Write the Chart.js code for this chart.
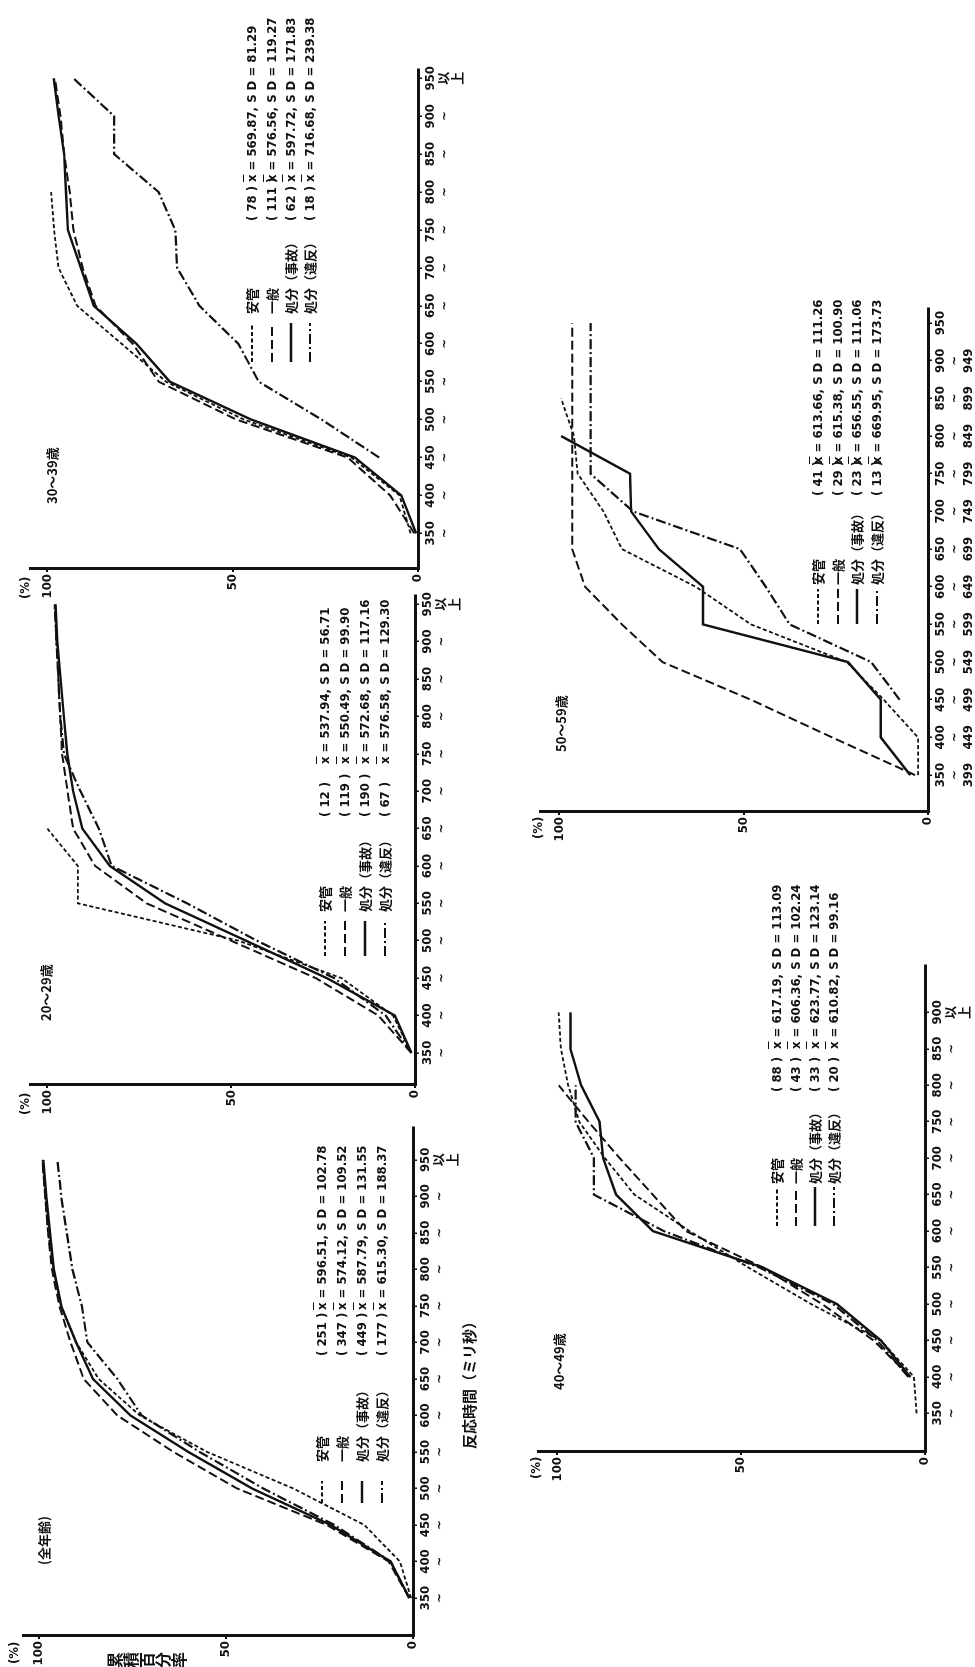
<!DOCTYPE html>
<html lang="ja">
<head>
<meta charset="utf-8">
<title>反応時間の累積百分率</title>
<script src="https://cdn.jsdelivr.net/npm/chart.js@4.4.1/dist/chart.umd.min.js"></script>
<style>
  html, body { margin: 0; padding: 0; background: #fff; }
  body { width: 975px; height: 1667px; overflow: hidden; position: relative; }
  /* the page is laid out landscape and turned a quarter to the left */
  #page {
    position: absolute; left: 0; top: 0; width: 1667px; height: 975px;
    transform-origin: 0 0; transform: translate(0, 1667px) rotate(-90deg);
  }
  #page canvas { position: absolute; }
  .t {
    position: absolute; color: #111; white-space: nowrap; line-height: 1;
    font-family: "Noto Sans CJK JP", sans-serif; font-weight: bold; font-size: 13px;
    transform: translateY(-50%);
  }
  .num { font-family: "Liberation Sans Narrow", "DejaVu Sans Condensed", "Noto Sans CJK JP", sans-serif; }
  .vert { writing-mode: vertical-rl; transform: none; font-size: 16px; }
  .row { position: absolute; height: 16px; }
  .row > * { position: absolute; top: 0; }
  .row svg { top: 6px; }
  .row .lab, .row .n, .row .st { line-height: 16px; }
  .xb { text-decoration: overline; }
</style>
</head>
<body>
<div id="page"></div>
<script>
(function () {
  'use strict';

  // ── Data ──────────────────────────────────────────────────────────────────
  var TIMES    = [350, 400, 450, 500, 550, 600, 650, 700, 750, 800, 850, 900, 950];
  var TIMES_40 = [350, 400, 450, 500, 550, 600, 650, 700, 750, 800, 850, 900];

  var LABELS_STD = [['350', '~'], ['400', '~'], ['450', '~'], ['500', '~'], ['550', '~'],
    ['600', '~'], ['650', '~'], ['700', '~'], ['750', '~'], ['800', '~'], ['850', '~'],
    ['900', '~'], ['950', '以', '上']];
  var LABELS_40 = [['350', '~'], ['400', '~'], ['450', '~'], ['500', '~'], ['550', '~'],
    ['600', '~'], ['650', '~'], ['700', '~'], ['750', '~'], ['800', '~'], ['850', '~'],
    ['900', '以', '上']];
  var LABELS_50 = [['350', '~', '399'], ['400', '~', '449'], ['450', '~', '499'],
    ['500', '~', '549'], ['550', '~', '599'], ['600', '~', '649'], ['650', '~', '699'],
    ['700', '~', '749'], ['750', '~', '799'], ['800', '~', '849'], ['850', '~', '899'],
    ['900', '~', '949'], ['950']];

  var PCT_TICKS  = [0, 50, 100];
  var PCT_LABELS = ['0', '50', '100'];

  var GROUPS = ['安管', '一般', '処分（事故）', '処分（違反）'];

  // 全年齢
  var ALL_ANKAN = [0.5, 3.5, 13, 32, 55, 73, 84, 90, 94, 96, 97.5, 98.3, 99];
  var ALL_IPPAN = [1, 6.5, 23, 47, 64, 79, 88, 91.5, 94.5, 96.5, 97.5, 98.3, 99];
  var ALL_JIKO  = [1, 6, 22, 43, 60, 75.5, 85.5, 90, 94, 96, 97, 98, 98.8];
  var ALL_IHAN  = [1, 6, 21, 40, 57, 72.5, 79, 87, 88.5, 91, 92.5, 94, 95];
  var ALL_N    = ['251', '347', '449', '177'];
  var ALL_MEAN = ['596.51', '574.12', '587.79', '615.30'];
  var ALL_SD   = ['102.78', '109.52', '131.55', '188.37'];

  // 20〜29歳
  var A20_ANKAN = [1, 6, 20, 48, 91.7, 91.7, 100, null, null, null, null, null, null];
  var A20_IPPAN = [1, 10, 27, 50, 73, 87, 93, 94.5, 96, 96.5, 97, 97.5, 98];
  var A20_JIKO  = [1, 5.5, 24, 46, 68, 83, 90.5, 93, 94.6, 95.5, 96.4, 97.3, 97.8];
  var A20_IHAN  = [1, 8, 22, 43, 62, 82.5, 86, 91, 95.5, 96.5, 97, 97.5, 98];
  var A20_N    = ['12', '119', '190', '67'];
  var A20_MEAN = ['537.94', '550.49', '572.68', '576.58'];
  var A20_SD   = ['56.71', '99.90', '117.16', '129.30'];

  // 30〜39歳
  var A30_ANKAN = [2, 5, 18, 47, 68, 80, 92, 97, 98.2, 99, null, null, null];
  var A30_IPPAN = [1, 7.5, 19, 49, 70, 77, 87, 90.5, 93, 94, 95.5, 96.5, 98];
  var A30_JIKO  = [0.5, 4.5, 17, 45, 67, 76, 87.5, 91, 94.5, 95, 95.5, 97, 98.3];
  var A30_IHAN  = [null, null, 10.5, 26, 43, 48.5, 59, 65, 65.5, 70, 82, 82, 93];
  var A30_N    = ['78', '111', '62', '18'];
  var A30_MEAN = ['569.87', '576.56', '597.72', '716.68'];
  var A30_SD   = ['81.29', '119.27', '171.83', '239.38'];

  // 40〜49歳
  var A40_ANKAN = [2.3, 3, 12, 31, 48, 64, 79, 87, 94, 97, 99, 99.6];
  var A40_IPPAN = [null, 4, 14, 28, 44, 65, 74, 83, 91.5, 99.6, null, null];
  var A40_JIKO  = [null, 4, 12, 24, 44, 74, 84, 87.5, 88.5, 93.5, 96.4, 96.4];
  var A40_IHAN  = [null, 4.5, 13, 25, 45, 71, 90, 90, 95, 95, null, null];
  var A40_N    = ['88', '43', '33', '20'];
  var A40_MEAN = ['617.19', '606.36', '623.77', '610.82'];
  var A40_SD   = ['113.09', '102.24', '123.14', '99.16'];

  // 50〜59歳
  var A50_ANKAN = [2.7, 2.7, 12, 22, 48, 63, 83, 88, 95, 96, 99.5, null, null];
  var A50_IPPAN = [3.5, 26, 48, 72, 83, 93, 96.5, 96.5, 96.5, 96.5, 96.5, 96.5, 96.5];
  var A50_JIKO  = [4.8, 12.8, 12.8, 21.7, 61, 61, 73, 80.5, 80.8, 99.5, null, null, null];
  var A50_IHAN  = [null, null, 7.7, 15.4, 37.5, 44, 51, 80, 91.5, 91.5, 91.5, 91.5, 91.5];
  var A50_N    = ['41', '29', '23', '13'];
  var A50_MEAN = ['613.66', '615.38', '656.55', '669.95'];
  var A50_SD   = ['111.26', '100.90', '111.06', '173.73'];

  // ── Line styles (安管 / 一般 / 処分(事故) / 処分(違反)) ─────────────────────
  var STYLES = [
    { dash: [4, 2.5],       width: 1.8 },
    { dash: [9, 4],         width: 2.0 },
    { dash: [],             width: 2.4 },
    { dash: [10, 3, 2, 3],  width: 2.2 }
  ];
  var INK = '#111';
  var NUM_FONT = '"Liberation Sans Narrow", "DejaVu Sans Condensed", "Noto Sans CJK JP", sans-serif';

  Chart.defaults.font.family = NUM_FONT;
  Chart.defaults.color = INK;

  var page = document.getElementById('page');

  // ── Helpers ───────────────────────────────────────────────────────────────
  function addText(html, u, v, cls) {
    var el = document.createElement('div');
    el.className = 't' + (cls ? ' ' + cls : '');
    el.innerHTML = html;
    el.style.left = u + 'px';
    el.style.top = v + 'px';
    page.appendChild(el);
    return el;
  }

  function sampleSvg(style, len) {
    var ns = 'http://www.w3.org/2000/svg';
    var svg = document.createElementNS(ns, 'svg');
    svg.setAttribute('width', len);
    svg.setAttribute('height', 4);
    var ln = document.createElementNS(ns, 'line');
    ln.setAttribute('x1', 0); ln.setAttribute('y1', 2);
    ln.setAttribute('x2', len); ln.setAttribute('y2', 2);
    ln.setAttribute('stroke', INK);
    ln.setAttribute('stroke-width', style.width);
    if (style.dash.length) { ln.setAttribute('stroke-dasharray', style.dash.join(' ')); }
    svg.appendChild(ln);
    return svg;
  }

  function addLegend(lg, n, mean, sd) {
    GROUPS.forEach(function (g, i) {
      var row = document.createElement('div');
      row.className = 'row';
      row.style.left = lg.u + 'px';
      row.style.top = (lg.rows[i] - 8) + 'px';
      var svg = sampleSvg(STYLES[i], lg.len);
      svg.style.left = '0px';
      row.appendChild(svg);

      var lab = document.createElement('span');
      lab.className = 'lab';
      lab.style.left = lg.offL + 'px';
      lab.textContent = g;
      row.appendChild(lab);

      var cnt = document.createElement('span');
      cnt.className = 'n num';
      cnt.style.left = lg.offN + 'px';
      cnt.textContent = '( ' + n[i] + ' )';
      row.appendChild(cnt);

      var st = document.createElement('span');
      st.className = 'st num';
      st.style.left = lg.offS + 'px';
      st.innerHTML = '<span class="xb">x</span> = ' + mean[i] + ', S D = ' + sd[i];
      row.appendChild(st);

      row.style.fontFamily = '"Noto Sans CJK JP", sans-serif';
      row.style.fontWeight = 'bold';
      row.style.fontSize = '13px';
      row.style.color = INK;
      row.style.whiteSpace = 'nowrap';
      page.appendChild(row);
    });
  }

  // one panel: geometry in page pixels (u to the right, v downwards)
  function panel(p) {
    var W = 30, H = 62, PT = 4, PR = 4;
    var cw = W + (p.uEnd - p.u0) + PR;
    var ch = PT + (p.v0 - p.vTop) + H;
    var canvas = document.createElement('canvas');
    canvas.width = cw; canvas.height = ch;
    canvas.style.width = cw + 'px'; canvas.style.height = ch + 'px';
    canvas.style.left = (p.u0 - W) + 'px';
    canvas.style.top = (p.vTop - PT) + 'px';
    page.appendChild(canvas);

    new Chart(canvas, {
      type: 'line',
      data: {
        datasets: p.series.map(function (s, i) {
          return {
            label: GROUPS[i],
            data: p.times.map(function (t, j) { return { x: t, y: s[j] }; }),
            borderColor: INK,
            borderWidth: STYLES[i].width,
            borderDash: STYLES[i].dash,
            borderCapStyle: 'butt',
            pointRadius: 0,
            fill: false,
            tension: 0,
            spanGaps: false
          };
        })
      },
      options: {
        responsive: false,
        animation: false,
        devicePixelRatio: 1,
        layout: { autoPadding: false, padding: { left: 0, top: PT, right: PR, bottom: 0 } },
        plugins: { legend: { display: false }, tooltip: { enabled: false } },
        scales: {
          x: {
            type: 'linear', min: p.xMin, max: p.xMax,
            afterFit: function (sc) { sc.height = H; },
            afterBuildTicks: function (sc) {
              sc.ticks = p.times.map(function (t) { return { value: t }; });
            },
            ticks: {
              autoSkip: false, maxRotation: 0, minRotation: 0, padding: 2, color: INK,
              font: { size: 13, weight: 'bold', lineHeight: 1.05 },
              callback: function (v, i) { return p.tickLabels[i]; }
            },
            grid: { drawOnChartArea: false, drawTicks: true, tickLength: 4, color: INK, lineWidth: 1.5 },
            border: { display: true, color: INK, width: 3 }
          },
          y: {
            type: 'linear', min: 0, max: p.yMax,
            afterFit: function (sc) { sc.width = W; },
            afterBuildTicks: function (sc) {
              sc.ticks = PCT_TICKS.map(function (t) { return { value: t }; });
            },
            ticks: {
              padding: 2, color: INK,
              font: { size: 13, weight: 'bold' },
              callback: function (v, i) { return PCT_LABELS[i]; }
            },
            grid: { drawOnChartArea: false, drawTicks: true, tickLength: 3, color: INK, lineWidth: 2 },
            border: { display: true, color: INK, width: 3 }
          }
        }
      }
    });
  }

  // ── Panels ────────────────────────────────────────────────────────────────
  panel({ u0: 31, uEnd: 540, v0: 413, vTop: 18, xMin: 298, xMax: 995, yMax: 104,
          times: TIMES, tickLabels: LABELS_STD,
          series: [ALL_ANKAN, ALL_IPPAN, ALL_JIKO, ALL_IHAN] });
  panel({ u0: 582, uEnd: 1073, v0: 415, vTop: 25, xMin: 307, xMax: 962, yMax: 104.5,
          times: TIMES, tickLabels: LABELS_STD,
          series: [A20_ANKAN, A20_IPPAN, A20_JIKO, A20_IHAN] });
  panel({ u0: 1098, uEnd: 1599, v0: 418, vTop: 25, xMin: 303, xMax: 962, yMax: 104.5,
          times: TIMES, tickLabels: LABELS_STD,
          series: [A30_ANKAN, A30_IPPAN, A30_JIKO, A30_IHAN] });
  panel({ u0: 215, uEnd: 702, v0: 925, vTop: 533, xMin: 297, xMax: 965, yMax: 105,
          times: TIMES_40, tickLabels: LABELS_40,
          series: [A40_ANKAN, A40_IPPAN, A40_JIKO, A40_IHAN] });
  panel({ u0: 855, uEnd: 1359, v0: 928, vTop: 535, xMin: 301, xMax: 970, yMax: 105,
          times: TIMES, tickLabels: LABELS_50,
          series: [A50_ANKAN, A50_IPPAN, A50_JIKO, A50_IHAN] });

  // ── Titles, axis captions ────────────────────────────────────────────────
  addText('(全年齢)', 102, 43);
  addText('20〜29歳', 646, 45);
  addText('30〜39歳', 1163, 51);
  addText('40〜49歳', 277, 558);
  addText('50〜59歳', 915, 560);

  addText('(%)', 3, 13, 'num');
  addText('(%)', 552, 24, 'num');
  addText('(%)', 1068, 24, 'num');
  addText('(%)', 188, 535, 'num');
  addText('(%)', 828, 537, 'num');

  addText('反応時間（ミリ秒）', 218, 468).style.fontSize = '15px';
  addText('累積百分率', -1, 107, 'vert');

  // ── Legends ───────────────────────────────────────────────────────────────
  addLegend({ u: 164, len: 22, offL: 41, offN: 147, offS: 193, rows: [322, 342, 362, 382] },
            ALL_N, ALL_MEAN, ALL_SD);
  addLegend({ u: 711, len: 35, offL: 44, offN: 139, offS: 192, rows: [325, 345, 365, 385] },
            A20_N, A20_MEAN, A20_SD);
  addLegend({ u: 1305, len: 39, offL: 48, offN: 141, offS: 180, rows: [252, 272, 291, 310] },
            A30_N, A30_MEAN, A30_SD);
  addLegend({ u: 441, len: 39, offL: 42, offN: 134, offS: 177, rows: [777, 796, 815, 834] },
            A40_N, A40_MEAN, A40_SD);
  addLegend({ u: 1043, len: 35, offL: 39, offN: 128, offS: 160, rows: [818, 838, 857, 877] },
            A50_N, A50_MEAN, A50_SD);
}());
</script>
</body>
</html>
